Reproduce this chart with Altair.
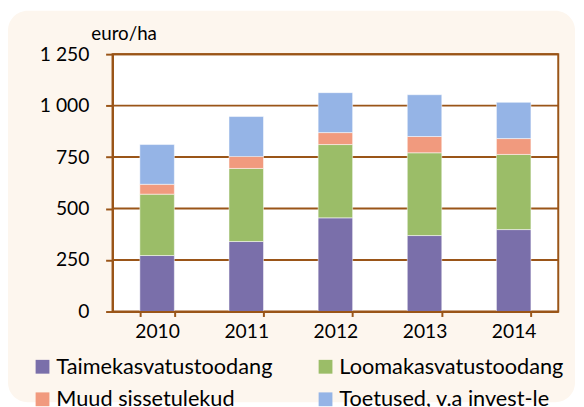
import altair as alt
import pandas as pd

years = ["2010", "2011", "2012", "2013", "2014"]
series = ["Taimekasvatustoodang", "Loomakasvatustoodang", "Muud sissetulekud", "Toetused, v.a invest-le"]
taime = [272, 340, 455, 369, 398]
looma = [298, 355, 356, 402, 365]
muud = [48, 58, 58, 79, 77]
toetused = [193, 194, 194, 203, 176]
colors = ["#7A6FAA", "#9BBD68", "#F19A7E", "#95B4E6"]
y_ticks = [0, 250, 500, 750, 1000, 1250]
grid_values = [250, 500, 750, 1000, 1250]

BROWN = "#9A5518"
FONT = "Lato"
W, H = 452, 261

rows = []
for si, (name, vals) in enumerate(zip(series, [taime, looma, muud, toetused])):
    for y, v in zip(years, vals):
        rows.append({"year": y, "series": name, "value": v, "order": si})
df = pd.DataFrame(rows)

# legend entries laid out column by column -> give them in that order
legend_order = [series[0], series[2], series[1], series[3]]

yscale = alt.Scale(domain=[0, 1250], nice=False)

panel = alt.Chart(alt.Data(values=[{}])).mark_rect(
    color="#FDF6EE", cornerRadius=20
).encode(
    x=alt.value(-106), x2=alt.value(469), y=alt.value(-44), y2=alt.value(353)
)

plot_bg = alt.Chart(alt.Data(values=[{}])).mark_rect(
    fill="white", stroke=BROWN, strokeWidth=2
).encode(
    x=alt.value(0), x2=alt.value(W), y=alt.value(0), y2=alt.value(H)
)

grid = alt.Chart(pd.DataFrame({"value": grid_values})).mark_rule(
    color=BROWN, strokeWidth=2
).encode(
    y=alt.Y("value:Q", scale=yscale),
    x=alt.value(0), x2=alt.value(W)
)

bars = alt.Chart(df).mark_bar(stroke="white", strokeWidth=1, strokeOpacity=0.5).encode(
    x=alt.X("year:N", sort=years,
            scale=alt.Scale(paddingInner=0.613, paddingOuter=0.3065),
            axis=alt.Axis(title=None, labelAngle=0, labelFont=FONT, labelFontSize=19.5,
                          labelColor="black", tickColor=BROWN, tickWidth=2, tickSize=5,
                          tickBand="extent", domainColor=BROWN, domainWidth=2,
                          labelPadding=6, zindex=1)),
    y=alt.Y("value:Q", stack="zero", scale=yscale,
            axis=alt.Axis(values=y_ticks, title="euro/ha", titleAngle=0,
                          titleX=-22, titleY=-15, titleAlign="left",
                          titleBaseline="alphabetic", titleFont=FONT,
                          titleFontSize=19, titleFontWeight="normal", titleColor="black",
                          labelFont=FONT, labelFontSize=19.5, labelColor="black",
                          labelExpr="replace(format(datum.value, ','), ',', ' ')",
                          tickColor=BROWN, tickWidth=2, tickSize=7, labelPadding=17,
                          domainColor=BROWN, domainWidth=2, grid=False, zindex=1)),
    color=alt.Color("series:N", scale=alt.Scale(domain=series, range=colors),
                    legend=alt.Legend(title=None, orient="none", legendX=-82, legendY=306,
                                      values=legend_order,
                                      columns=2, columnPadding=42, rowPadding=11,
                                      symbolType="square", symbolSize=196,
                                      symbolStrokeWidth=0, labelFont=FONT,
                                      labelFontSize=22, labelColor="black",
                                      labelOffset=3, labelLimit=400, padding=0)),
    order=alt.Order("order:Q", sort="ascending"),
)

chart = alt.layer(panel, plot_bg, grid, bars).properties(
    width=W, height=H,
    autosize=alt.AutoSizeParams(type="none"),
    padding={"left": 106, "top": 44, "right": 18, "bottom": 94},
    background="white",
).configure_view(stroke=None)

chart.save("out.html", embed_options={"renderer": "svg", "actions": False})
